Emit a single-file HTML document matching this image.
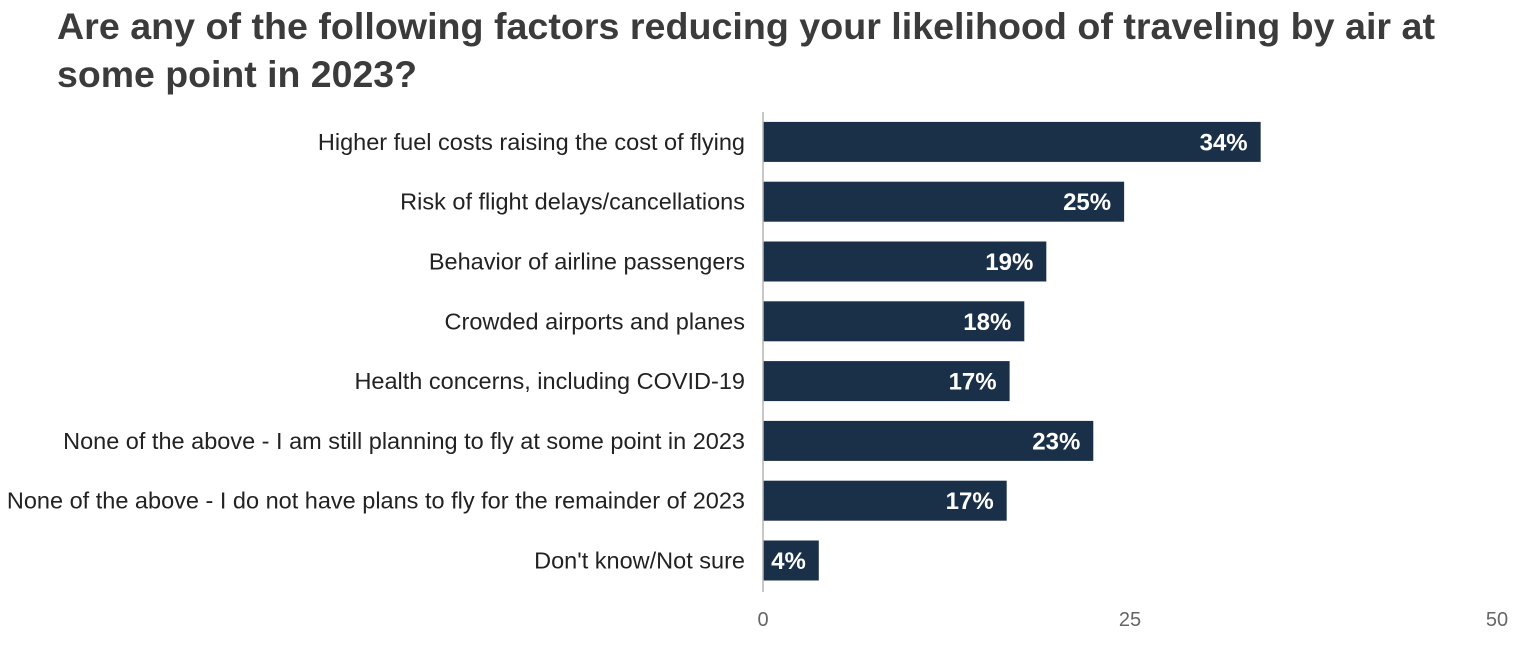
<!DOCTYPE html>
<html><head><meta charset="utf-8"><style>
html,body{margin:0;padding:0;background:#fff;}
svg{display:block;font-family:"Liberation Sans",sans-serif;}
</style></head><body>
<svg id="chart" width="1525" height="647" viewBox="0 0 1525 647">
<text x="57" y="39" font-size="37" font-weight="bold" fill="#3b3b3b" textLength="1378" lengthAdjust="spacingAndGlyphs">Are any of the following factors reducing your likelihood of traveling by air at</text>
<text x="57" y="87" font-size="37" font-weight="bold" fill="#3b3b3b" textLength="360" lengthAdjust="spacingAndGlyphs">some point in 2023?</text>
<g id="bars"></g>
<g id="axis"></g>
</svg>
<script>
const categories = [
  "Higher fuel costs raising the cost of flying",
  "Risk of flight delays/cancellations",
  "Behavior of airline passengers",
  "Crowded airports and planes",
  "Health concerns, including COVID-19",
  "None of the above - I am still planning to fly at some point in 2023",
  "None of the above - I do not have plans to fly for the remainder of 2023",
  "Don't know/Not sure"
];
const values = [33.9, 24.6, 19.3, 17.8, 16.8, 22.5, 16.6, 3.8];
const valueLabels = ["34%", "25%", "19%", "18%", "17%", "23%", "17%", "4%"];
const ticks = [0, 25, 50];

const NS = "http://www.w3.org/2000/svg";
const x0 = 763, x1 = 1497, xMax = 50;
const xScale = v => x0 + (v / xMax) * (x1 - x0);
const top0 = 112, step = 59.8, barH = 40;
const yScale = i => top0 + step * i + (step - barH) / 2;
const bars = document.getElementById('bars');
const axis = document.getElementById('axis');
function mk(tag, attrs, parent) {
  const e = document.createElementNS(NS, tag);
  for (const k in attrs) e.setAttribute(k, attrs[k]);
  parent.appendChild(e);
  return e;
}
categories.forEach((c, i) => {
  const y = yScale(i);
  const r = mk('rect', {x: x0, y: y, width: xScale(values[i]) - x0, height: barH, fill: '#1a3049'}, bars);
  
  
  const t = mk('text', {x: 745, y: y + barH / 2 + 8, 'text-anchor': 'end', 'font-size': 23.5, fill: '#222'}, bars);
  t.textContent = c;
  
  
  const v = mk('text', {x: xScale(values[i]) - 13, y: y + barH / 2 + 8.5, 'text-anchor': 'end', 'font-size': 24, 'font-weight': 'bold', fill: '#fff'}, bars);
  v.textContent = valueLabels[i];
  
  
});
const line = mk('line', {x1: x0, x2: x0, y1: 112, y2: 592, stroke: '#b5b5b5', 'stroke-width': 1.5}, axis);


ticks.forEach(tk => {
  const t = mk('text', {x: xScale(tk), y: 626, 'text-anchor': 'middle', 'font-size': 20, fill: '#666'}, axis);
  t.textContent = tk;
  
  
});
</script>
</body></html>
